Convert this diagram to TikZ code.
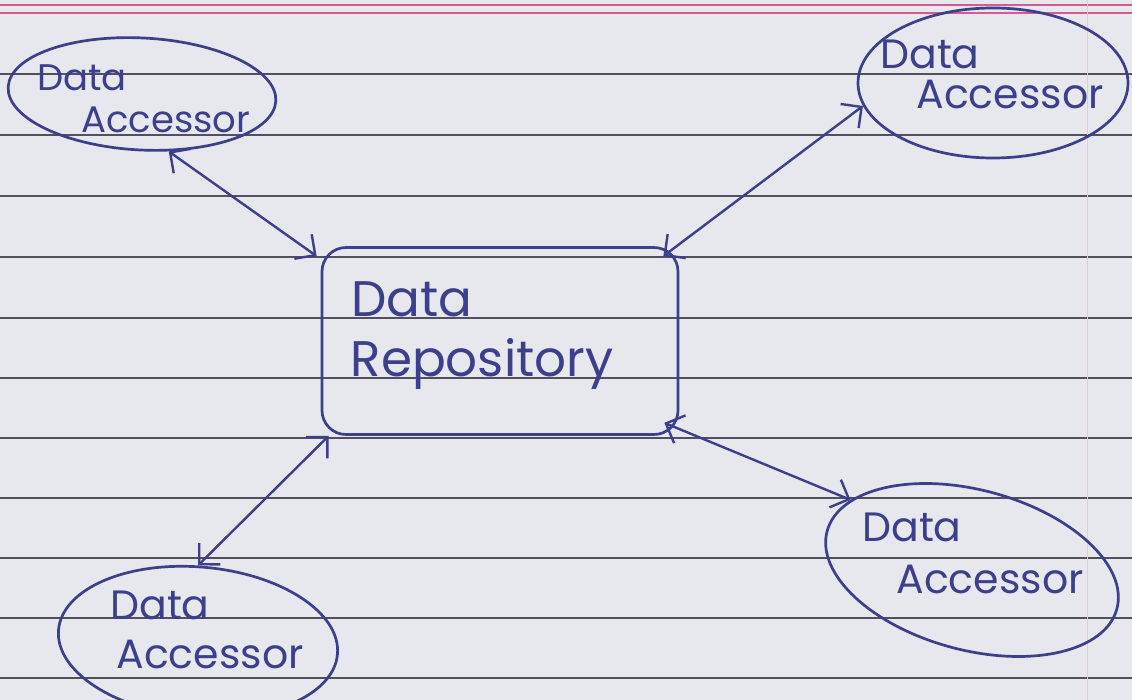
\documentclass[tikz,border=0pt]{standalone}
\usepackage{fontspec}
\setmainfont{Poppins}
\usetikzlibrary{shapes.geometric,arrows.meta}
\definecolor{paper}{HTML}{E6E8EE}
\definecolor{ruling}{HTML}{50505E}
\definecolor{pinkline}{HTML}{D45A92}
\definecolor{pen}{HTML}{3C3F8C}
\begin{document}
\begin{tikzpicture}[x=1pt,y=-1pt,
  penline/.style={draw=pen,line width=2.7pt},
  acc/.style={penline,ellipse,inner sep=0pt},
  hand/.style={text=pen,inner sep=0pt,font=\fontsize{41}{43}\selectfont},
  small/.style={text=pen,inner sep=0pt,font=\fontsize{37}{39}\selectfont},
  big/.style={text=pen,inner sep=0pt,font=\fontsize{50}{52}\selectfont},
  barb/.tip={Straight Barb[length=15pt,width=30pt,line width=2.4pt]},
  dbl/.style={penline,line width=2.4pt,barb-barb}]
\useasboundingbox (0,0) rectangle (1132,700);
\fill[paper] (0,0) rectangle (1132,700);
\foreach \yy in {74,135,196,257,318,378,438,498,558,618,678}
  \draw[ruling,line width=1.3pt] (0,\yy) -- (1132,\yy);
\draw[pinkline,line width=1.6pt] (0,5) -- (1132,5);
\draw[pinkline,line width=1.6pt] (0,13) -- (1132,13);
\draw[pinkline!35,line width=1pt] (1087,0) -- (1087,700);

% central repository
\node[penline,rectangle,rounded corners=24pt,minimum width=356pt,minimum height=187pt] (rep) at (500,341) {};
\node[big] (rept1) at (412,299) {Data};
\node[big] (rept2) at (482,364) {Repository};

% accessors
\node[acc,minimum width=268pt,minimum height=112pt,rotate=-3] (tl) at (142,94) {};
\node[small] (tlt1) at (82,78) {Data};
\node[small] (tlt2) at (166,120) {Accessor};

\node[acc,minimum width=270pt,minimum height=150pt] (tr) at (993,83) {};
\node[hand] (trt1) at (930,54) {Data};
\node[hand] (trt2) at (1010,94) {Accessor};

\node[acc,minimum width=280pt,minimum height=150pt,rotate=-5] (bl) at (198,642) {};
\node[hand] (blt1) at (160,605) {Data};
\node[hand] (blt2) at (210,654) {Accessor};

\node[acc,minimum width=300pt,minimum height=160pt,rotate=-15] (br) at (972,570) {};
\node[hand] (brt1) at (912,527) {Data};
\node[hand] (brt2) at (990,579) {Accessor};

% connectors
\draw[dbl] (tl.298) -- ([shift={(-4,10)}]rep.north west);
\draw[dbl] ([shift={(-16,10)}]rep.north east) -- (tr.190);
\draw[dbl] ([shift={(8,0)}]rep.south west) -- (bl.95);
\draw[dbl] ([shift={(-15,-13)}]rep.south east) -- (br.165);
\end{tikzpicture}
\end{document}
